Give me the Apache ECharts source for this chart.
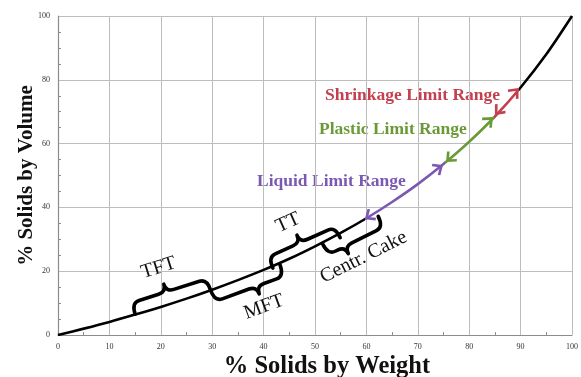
<!DOCTYPE html>
<html><head><meta charset="utf-8">
<script src="https://cdn.jsdelivr.net/npm/echarts@6/dist/echarts.min.js"></script>
<style>html,body{margin:0;padding:0;background:#fff}#c{width:581px;height:377px}</style>
</head><body><div id="c"></div>
<script>
// Curve: % solids by weight vs % solids by volume
const weightPct = [0,5,10,15,20,25,30,35,40,45,50,55,60,65,70,75,80,85,90,95,100];
const volumePct = [0,2.0,4.1,6.4,8.8,11.4,14.2,17.2,20.4,23.9,27.8,32.0,36.6,41.7,47.3,53.6,60.6,68.5,77.6,88.0,100];
const xTicks = [0,10,20,30,40,50,60,70,80,90,100];
const yTicks = [0,20,40,60,80,100];

// Limit ranges: double arrows along the curve
const rangeNames = ['Liquid Limit Range','Plastic Limit Range','Shrinkage Limit Range'];
const arrowX1 = [59.7,75.5,85.0];
const arrowY1 = [36.3,54.2,69.0];
const arrowX2 = [74.9,84.6,89.6];
const arrowY2 = [53.3,68.3,77.4];
const rangeColors = ['#7b58b2','#6a9a38','#c4404f'];

// Braces (annotation ranges on the curve)
const braceLabels = ['TFT','MFT','TT','Centr. Cake'];
const braceX1 = [15,29.7,41.8,51.5];
const braceY1 = [6.5,14.0,21.0,28.5];
const braceX2 = [29.7,43.2,54.9,62.3];
const braceY2 = [14.0,22.0,30.5,37.2];
const braceSide = [1,-1,1,-1];
const braceCusp = [0.46,0.6,0.48,0.3];

const curveData = weightPct.map((w,i)=>[w,volumePct[i]]);

const labelStyle = {
  'TFT':{along:0,off:37,size:20},
  'MFT':{along:0,off:34,size:20},
  'TT':{along:-3,off:35,size:20},
  'Centr. Cake':{along:12,off:30,size:20}
};

const chart = echarts.init(document.getElementById('c'), null, {renderer:'canvas'});
const serif = '"Liberation Serif","DejaVu Serif",serif';
const chevron = 'path://M0,0 L8,8 L6,10 L0,4 L-6,10 L-8,8 Z M0,-10 L0.01,-10 L0,-9.99 Z';

const braceData = braceLabels.map((l,i)=>[braceX1[i],braceY1[i],braceX2[i],braceY2[i],braceSide[i],braceCusp[i],i]);

function renderBrace(params, api){
  const p1 = api.coord([api.value(0), api.value(1)]);
  const p2 = api.coord([api.value(2), api.value(3)]);
  const side = api.value(4), frac = api.value(5), idx = api.value(6);
  const dx = p2[0]-p1[0], dy = p2[1]-p1[1];
  const L = Math.sqrt(dx*dx+dy*dy);
  const ux = dx/L, uy = dy/L;
  const nx = side*uy, ny = side*(-ux);
  const P = (u,v)=>[(p1[0]+u*ux+v*nx).toFixed(2),(p1[1]+u*uy+v*ny).toFixed(2)].join(',');
  const h = 12, c = 20, r = 8, m = frac*L;
  const d = 'M'+P(0,0)+' Q'+P(0,h)+' '+P(r,h)+' L'+P(m-r,h)+' Q'+P(m,h)+' '+P(m,c)+
            ' Q'+P(m,h)+' '+P(m+r,h)+' L'+P(L-r,h)+' Q'+P(L,h)+' '+P(L,0);
  const name = braceLabels[idx];
  const ls = labelStyle[name];
  const tx = p1[0]+(m+ls.along)*ux+ls.off*nx, ty = p1[1]+(m+ls.along)*uy+ls.off*ny;
  return {type:'group', children:[
    {type:'path', shape:{pathData:d}, style:{stroke:'#000', fill:null, lineWidth:3.6, lineCap:'round', lineJoin:'round'}},
    {type:'text', x:tx, y:ty, rotation:-Math.atan2(dy,dx),
     style:{text:name, font:'normal '+ls.size+'px '+serif, fill:'#111', align:'center', verticalAlign:'middle'}}
  ]};
}

const markData = rangeNames.map((n,i)=>[
  {coord:[arrowX1[i], arrowY1[i]], lineStyle:{color:rangeColors[i], width:0}, itemStyle:{color:rangeColors[i]}},
  {coord:[arrowX2[i], arrowY2[i]]}
]);

// colour pieces for the curve segments covered by the range arrows
const pieces = [{lt:arrowX1[0], color:'#000'}];
for (let i=0;i<rangeNames.length;i++){
  const lo = i===0 ? arrowX1[0] : (arrowX2[i-1]+arrowX1[i])/2;
  const hi = i===rangeNames.length-1 ? arrowX2[i] : (arrowX2[i]+arrowX1[i+1])/2;
  pieces.push({gte:lo, lt:hi, color:rangeColors[i]});
}
pieces.push({gte:arrowX2[rangeNames.length-1], color:'#000'});

chart.setOption({
  animation:false,
  grid:{left:58, right:9, top:16, bottom:42, containLabel:false, outerBoundsMode:'none'},
  visualMap:{type:'piecewise', show:false, dimension:0, seriesIndex:0, pieces:pieces},
  xAxis:{type:'value', min:0, max:100, interval:10,
    axisLine:{lineStyle:{color:'#8c8c8c', width:1.2}},
    axisTick:{show:true, inside:true, length:0, lineStyle:{color:'#8c8c8c'}},
    minorTick:{show:true, splitNumber:2, length:3, lineStyle:{color:'#8c8c8c'}},
    splitLine:{show:true, lineStyle:{color:'#bdbdbd', width:1}},
    axisLabel:{fontFamily:serif, fontSize:8, color:'#333', margin:8,
      formatter:v=>xTicks.indexOf(v)>=0?String(v):''},
    name:'% Solids by Weight', nameLocation:'middle', nameGap:19, nameMoveOverlap:false,
    nameTextStyle:{fontFamily:serif, fontWeight:'bold', fontSize:24.5, color:'#111', padding:[0,0,0,24]}
  },
  yAxis:{type:'value', min:0, max:100, interval:20,
    axisLine:{show:true, lineStyle:{color:'#8c8c8c', width:1.2}},
    axisTick:{show:true, inside:true, length:0, lineStyle:{color:'#8c8c8c'}},
    minorTick:{show:true, splitNumber:4, length:3, lineStyle:{color:'#8c8c8c'}},
    splitLine:{show:true, lineStyle:{color:'#bdbdbd', width:1}},
    axisLabel:{fontFamily:serif, fontSize:8, color:'#333', margin:8,
      formatter:v=>yTicks.indexOf(v)>=0?String(v):''},
    name:'% Solids by Volume', nameLocation:'middle', nameGap:21, nameMoveOverlap:false,
    nameTextStyle:{fontFamily:serif, fontWeight:'bold', fontSize:21, color:'#111'}
  },
  graphic:[
    {type:'text', x:325, y:95, style:{text:rangeNames[2], font:'bold 17.5px '+serif, fill:rangeColors[2], verticalAlign:'middle'}},
    {type:'text', x:319, y:129, style:{text:rangeNames[1], font:'bold 17.5px '+serif, fill:rangeColors[1], verticalAlign:'middle'}},
    {type:'text', x:257, y:181, style:{text:rangeNames[0], font:'bold 17.5px '+serif, fill:rangeColors[0], verticalAlign:'middle'}}
  ],
  series:[
    {type:'line', data:curveData, smooth:0.3, showSymbol:false, symbol:'none',
     lineStyle:{width:2.6}, z:3,
     markLine:{silent:true, symbol:[chevron, chevron], symbolSize:[14,20], precision:3,
       label:{show:false}, emphasis:{disabled:true}, data:markData}},
    {type:'custom', coordinateSystem:'cartesian2d', renderItem:renderBrace, data:braceData, z:4}
  ]
});
</script></body></html>
